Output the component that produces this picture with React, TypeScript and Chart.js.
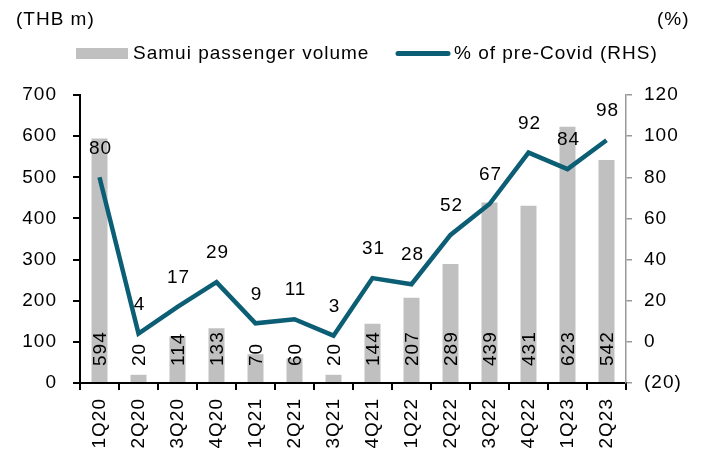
import React, { useEffect, useRef } from "react";
import { Chart, registerables } from "chart.js";

Chart.register(...registerables);

const categories = ["1Q20", "2Q20", "3Q20", "4Q20", "1Q21", "2Q21", "3Q21", "4Q21", "1Q22", "2Q22", "3Q22", "4Q22", "1Q23", "2Q23"];
const volume = [594, 20, 114, 133, 70, 60, 20, 144, 207, 289, 439, 431, 623, 542];
const pctOfPreCovid = [80, 4, 17, 29, 9, 11, 3, 31, 28, 52, 67, 92, 84, 98];
const leftTitle = "(THB m)";
const rightTitle = "(%)";
const barLabel = "Samui passenger volume";
const lineLabel = "% of pre-Covid (RHS)";

const BAR = "#c0c0c0";
const LINE = "#0b5e74";
const FONT = '"Liberation Sans", Arial, sans-serif';
const FS = 19;
const LS = "1px";

const labelPlugin = {
  id: "customLabels",
  beforeDraw(chart: any) {
    (chart.ctx as any).letterSpacing = LS;
  },
  afterDatasetsDraw(chart: any) {
    const ctx = chart.ctx;
    ctx.save();
    ctx.letterSpacing = LS;
    ctx.fillStyle = "#000";
    ctx.font = `${FS}px ${FONT}`;
    const barMeta = chart.getDatasetMeta(1);
    const bottom = chart.chartArea.bottom;
    barMeta.data.forEach((el: any, i: number) => {
      ctx.save();
      ctx.translate(el.x, bottom - 17);
      ctx.rotate(-Math.PI / 2);
      ctx.textAlign = "left";
      ctx.textBaseline = "middle";
      ctx.fillText(String(chart.data.datasets[1].data[i]), 0, 1);
      ctx.restore();
    });
    const lineMeta = chart.getDatasetMeta(0);
    lineMeta.data.forEach((el: any, i: number) => {
      ctx.textAlign = "center";
      ctx.textBaseline = "middle";
      ctx.fillText(String(chart.data.datasets[0].data[i]), el.x + 1, el.y - 29);
    });
    ctx.restore();
  },
  afterDraw(chart: any) {
    const ctx = chart.ctx;
    ctx.save();
    ctx.letterSpacing = LS;
    ctx.fillStyle = "#000";
    ctx.font = `${FS}px ${FONT}`;
    ctx.textBaseline = "middle";
    ctx.textAlign = "left";
    ctx.fillText(leftTitle, 16, 20);
    ctx.fillText(rightTitle, 657, 20);
    ctx.fillStyle = BAR;
    ctx.fillRect(76, 48, 52, 11);
    ctx.fillStyle = "#000";
    ctx.fillText(barLabel, 133, 54);
    ctx.strokeStyle = LINE;
    ctx.lineWidth = 5;
    ctx.lineCap = "round";
    ctx.beginPath();
    ctx.moveTo(398, 53.5);
    ctx.lineTo(448, 53.5);
    ctx.stroke();
    ctx.fillText(lineLabel, 454, 54);
    ctx.restore();
  },
};

export default function App() {
  const ref = useRef<HTMLCanvasElement>(null);
  useEffect(() => {
    document.body.style.margin = "0";
    const canvas = ref.current!;
    const font = { family: FONT, size: FS };
    const chart = new Chart(canvas, {
      type: "bar",
      data: {
        labels: categories,
        datasets: [
          {
            type: "line",
            label: lineLabel,
            data: pctOfPreCovid,
            yAxisID: "y1",
            borderColor: LINE,
            backgroundColor: LINE,
            borderWidth: 4.5,
            pointRadius: 0,
            tension: 0,
            order: 0,
          } as any,
          {
            type: "bar",
            label: barLabel,
            data: volume,
            yAxisID: "y",
            backgroundColor: BAR,
            barPercentage: 0.41,
            categoryPercentage: 1,
            order: 1,
          },
        ],
      },
      options: {
        responsive: false,
        animation: false,
        layout: { padding: { top: 95, left: 0, right: 0, bottom: 0 } },
        plugins: { legend: { display: false }, tooltip: { enabled: false } },
        scales: {
          x: {
            grid: { display: true, drawOnChartArea: false, drawTicks: true, tickLength: 7, color: "#000", lineWidth: 2, offset: true },
            border: { display: true, color: "#000", width: 2 },
            ticks: { minRotation: 90, maxRotation: 90, padding: 8, font, color: "#000", autoSkip: false },
            afterFit: (s: any) => { s.height = 75; },
          },
          y: {
            position: "left",
            min: 0,
            max: 700,
            grid: { display: true, drawOnChartArea: false, tickLength: 7, color: "#000", lineWidth: 2 },
            border: { display: true, color: "#000", width: 2 },
            ticks: { stepSize: 100, padding: 16, font, color: "#000" },
            afterFit: (s: any) => { s.width = 80; },
          },
          y1: {
            position: "right",
            min: -20,
            max: 120,
            grid: { display: true, drawOnChartArea: false, tickLength: 6, color: "#999", lineWidth: 1.5 },
            border: { display: true, color: "#999", width: 1.5 },
            ticks: {
              stepSize: 20,
              padding: 12,
              font,
              color: "#000",
              callback: (v: any) => (v < 0 ? `(${-v})` : String(v)),
            },
            afterFit: (s: any) => { s.width = 76; },
          },
        },
      },
      plugins: [labelPlugin],
    });
    return () => chart.destroy();
  }, []);
  return (
    <div style={{ width: 702, height: 458 }}>
      <canvas ref={ref} width={702} height={458} style={{ display: "block" }} />
    </div>
  );
}
